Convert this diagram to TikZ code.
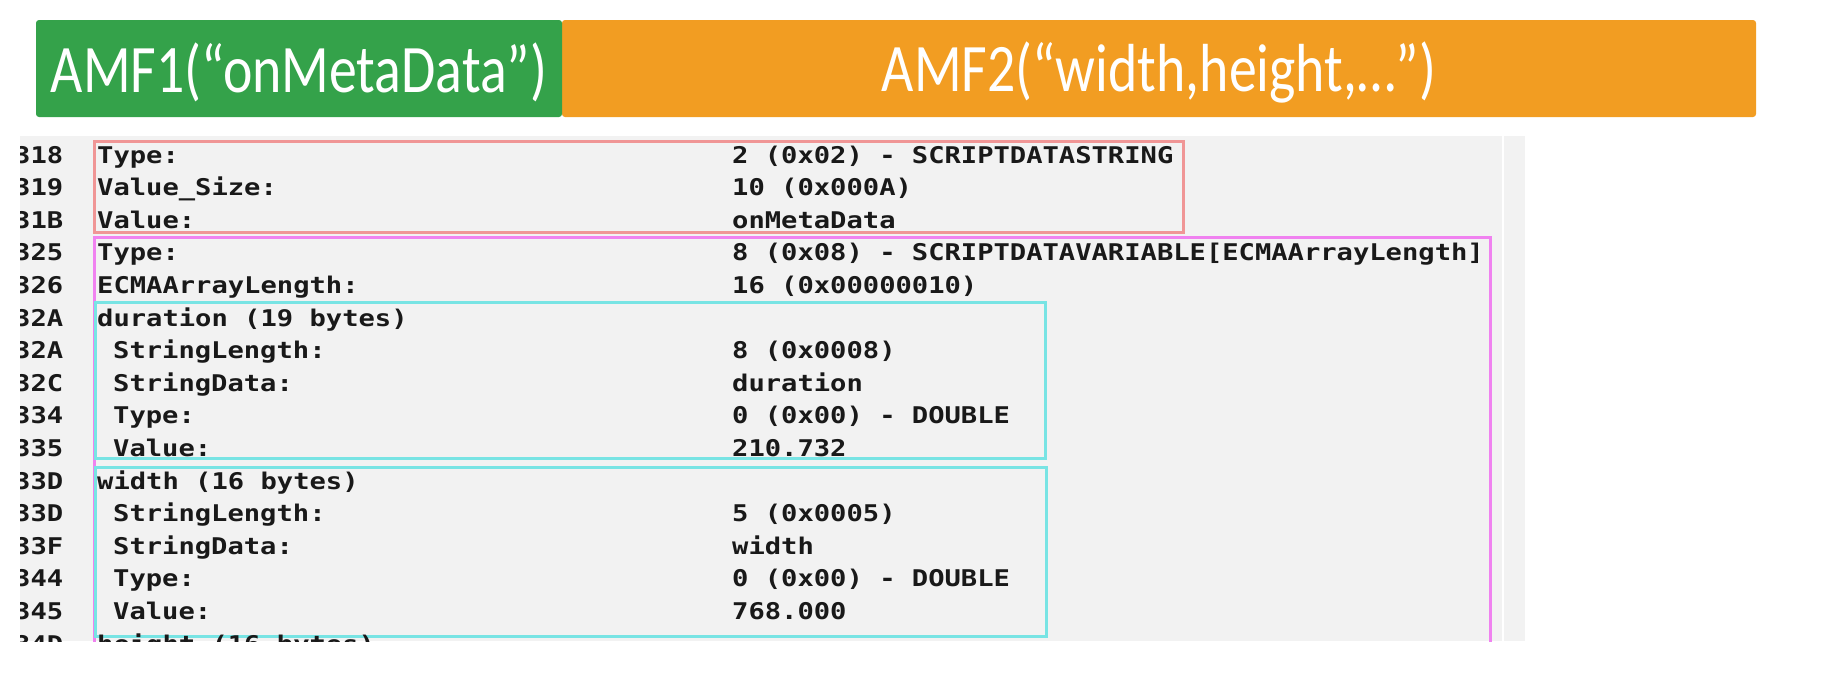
\documentclass[tikz,border=0pt]{standalone}
\usepackage{fontspec}
\setmainfont{Carlito}
\newfontfamily\hdrfont{Carlito}[FakeStretch=0.82]
\newfontfamily\dumpfont{DejaVu Sans Mono}[FakeStretch=1.18]
\usepackage{tikz}

\definecolor{amfgreen}{RGB}{52,162,74}
\definecolor{amforange}{RGB}{242,157,34}
\definecolor{panelgrey}{RGB}{242,242,242}
\definecolor{boxred}{RGB}{240,150,150}
\definecolor{boxmagenta}{RGB}{240,130,240}
\definecolor{boxcyan}{RGB}{120,228,228}

\begin{document}
\begin{tikzpicture}[x=1pt, y=-1pt,
    hdr/.style={rectangle, rounded corners=3pt, fill=#1, minimum height=97pt},
    hdrtext/.style={text=white, inner sep=0pt, font=\hdrfont\fontsize{68}{72}\selectfont},
    dump/.style={anchor=base west, inner sep=0pt, text=black!90,
      font=\dumpfont\bfseries\fontsize{23}{26}\selectfont},
    frame/.style={line width=3pt}]
  \useasboundingbox (0,0) rectangle (1822,678);

  % header bars
  \node[hdr=amforange, minimum width=1194pt] (amf2) at (1159,68.5) {};
  \node[hdr=amfgreen, minimum width=526pt] (amf1) at (299,68.5) {};
  \node[hdrtext] (amf1txt) at ([yshift=-4pt]amf1.center) {AMF1(“onMetaData”)};
  \node[hdrtext] (amf2txt) at ([yshift=-4pt]amf2.center) {AMF2(“width,height,…”)};

  % dump panel
  \fill[panelgrey] (20,136) rectangle (1525,641);
  \draw[white, line width=1.5pt] (1503,136) -- (1503,641);
  \begin{scope}
    \clip (20,136) rectangle (1525,641);
    \draw[frame, boxred] (94,141) rectangle (1183,232);
    \draw[frame, boxmagenta] (94,237) rectangle (1490,670);
    \draw[frame, boxcyan] (95,302) rectangle (1045,458);
    \draw[frame, boxcyan] (95,467) rectangle (1046,636);
    \foreach \k/\off/\lx/\lab/\val in {
        0/{318}/97/{Type:}/{2 (0x02) - SCRIPTDATASTRING},
        1/{319}/97/{Value\_Size:}/{10 (0x000A)},
        2/{31B}/97/{Value:}/{onMetaData},
        3/{325}/97/{Type:}/{8 (0x08) - SCRIPTDATAVARIABLE[ECMAArrayLength]},
        4/{326}/97/{ECMAArrayLength:}/{16 (0x00000010)},
        5/{32A}/97/{duration (19 bytes)}/{},
        6/{32A}/113/{StringLength:}/{8 (0x0008)},
        7/{32C}/113/{StringData:}/{duration},
        8/{334}/113/{Type:}/{0 (0x00) - DOUBLE},
        9/{335}/113/{Value:}/{210.732},
        10/{33D}/97/{width (16 bytes)}/{},
        11/{33D}/113/{StringLength:}/{5 (0x0005)},
        12/{33F}/113/{StringData:}/{width},
        13/{344}/113/{Type:}/{0 (0x00) - DOUBLE},
        14/{345}/113/{Value:}/{768.000},
        15/{34D}/97/{height (16 bytes)}/{}}
    {
      \node[dump] (off\k) at (14,163+32.6*\k) {\off};
      \node[dump] (lab\k) at (\lx,163+32.6*\k) {\lab};
      \node[dump] (val\k) at (732,163+32.6*\k) {\val};
    }
  \end{scope}
\end{tikzpicture}
\end{document}
